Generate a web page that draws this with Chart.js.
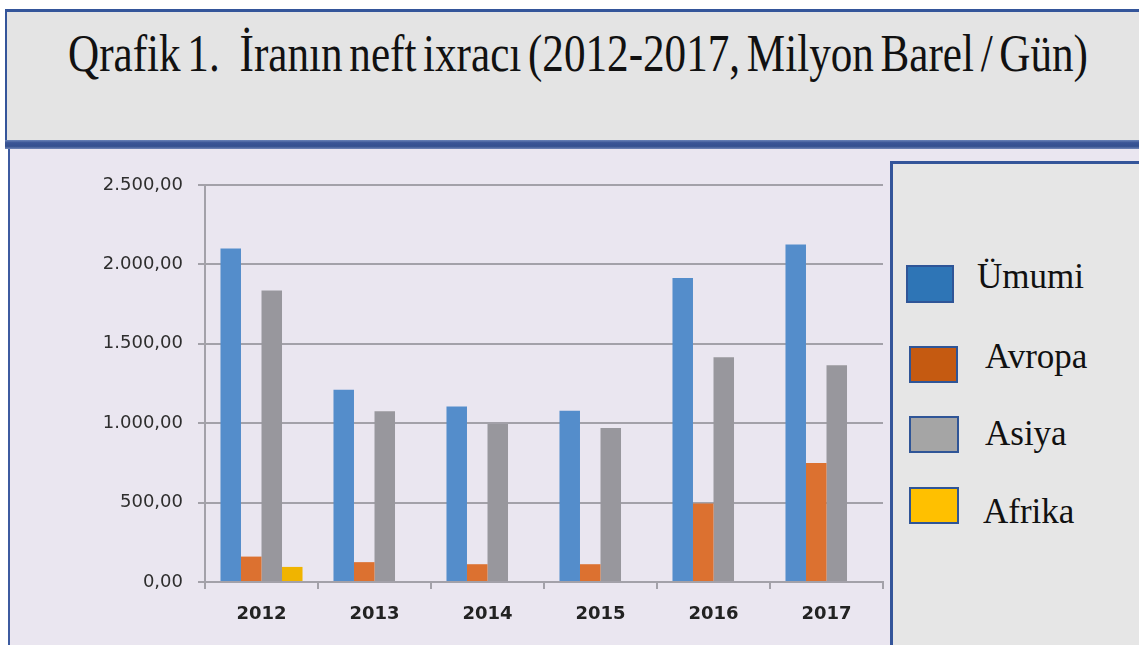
<!DOCTYPE html>
<html>
<head>
<meta charset="utf-8">
<script src="https://cdn.jsdelivr.net/npm/chart.js@4/dist/chart.umd.min.js"></script>
<style>
  html, body { margin:0; padding:0; background:#ffffff; }
  body { width:1139px; height:645px; overflow:hidden; position:relative; }
  #titlebox { position:absolute; left:5px; top:9px; width:1160px; height:131px; box-sizing:border-box;
    background:#e4e4e4; border-top:3px solid #34559a; border-left:2px solid #34559a; }
  #band { position:absolute; left:5px; top:140px; width:1160px; height:9px;
    background:linear-gradient(#6b84b8, #3a5596 30%, #34508f 70%, #7388b8); }
  #panel { position:absolute; left:8px; top:149px; width:1160px; height:520px; box-sizing:border-box;
    background:#eae6f0; border-left:2px solid #3d5ba0; }
  #wrap { position:absolute; left:0; top:0; width:1139px; height:645px; }
  #title { position:absolute; left:68px; top:28px; font-family:"Liberation Serif","Times New Roman",serif;
    font-size:52px; line-height:1; color:#111; white-space:pre; transform-origin:0 0; word-spacing:-5px; }
  #legendbox { position:absolute; left:890px; top:161px; width:280px; height:520px; box-sizing:border-box;
    background:#e6e6e6; border-top:3px solid #34559a; border-left:3px solid #34559a; }
  .lbox { position:absolute; box-sizing:border-box; border:2.5px solid #2f5597; }
  .ltext { position:absolute; font-family:"Liberation Serif","Times New Roman",serif; font-size:35px;
    line-height:1; color:#111; white-space:pre; }
</style>
</head>
<body>
<div id="titlebox"></div>
<div id="band"></div>
<div id="panel"></div>
<div id="title">Qrafik 1.   İranın neft ixracı (2012-2017, Milyon Barel / Gün)</div>
<div id="wrap"><canvas id="c" width="1139" height="645"></canvas></div>
<div id="legendbox"></div>
<script>
// ---- data ----
const categories = ['2012', '2013', '2014', '2015', '2016', '2017'];
const umumi  = [2100, 1210, 1105, 1078, 1915, 2125];
const avropa = [160, 125, 112, 112, 495, 750];
const asiya  = [1835, 1075, 995, 970, 1415, 1365];
const afrika = [95, null, null, null, null, null];
const seriesNames = ['Ümumi', 'Avropa', 'Asiya', 'Afrika'];
const yTickValues = [0, 500, 1000, 1500, 2000, 2500];
const yTickLabels = ['0,00', '500,00', '1.000,00', '1.500,00', '2.000,00', '2.500,00'];

// ---- styles ----
const barColors = ['#548dcb', '#dc7130', '#98979d', '#f0b400'];
const legendColors = ['#2e75b6', '#c55a11', '#a5a5a5', '#ffc000'];
const gridColor = '#a3a1a9';

// title horizontal fit
const t = document.getElementById('title');
const w = t.getBoundingClientRect().width;
t.style.transform = 'scaleX(' + (1020 / w) + ')';

// legend
const legendPos = [
  {bx:906, by:265, bw:48, bh:38, tx:977, ty:259},
  {bx:909, by:346, bw:49, bh:37, tx:985, ty:339},
  {bx:909, by:416, bw:50, bh:37, tx:985, ty:416},
  {bx:909, by:487, bw:50, bh:37, tx:983, ty:494}
];
seriesNames.forEach((name, i) => {
  const p = legendPos[i];
  const b = document.createElement('div');
  b.className = 'lbox';
  b.style.left = p.bx + 'px'; b.style.top = p.by + 'px';
  b.style.width = p.bw + 'px'; b.style.height = p.bh + 'px';
  b.style.background = legendColors[i];
  document.body.appendChild(b);
  const tx = document.createElement('div');
  tx.className = 'ltext';
  tx.style.left = p.tx + 'px'; tx.style.top = p.ty + 'px';
  tx.textContent = name;
  document.body.appendChild(tx);
});

const seriesData = [umumi, avropa, asiya, afrika];
new Chart(document.getElementById('c'), {
  type: 'bar',
  data: {
    labels: categories,
    datasets: seriesNames.map((n, i) => ({
      label: n,
      data: seriesData[i],
      backgroundColor: barColors[i],
      borderWidth: 0,
      barPercentage: 1.0,
      categoryPercentage: 0.726
    }))
  },
  options: {
    responsive: false,
    animation: false,
    devicePixelRatio: 1,
    layout: { padding: { left: 0, top: 185, right: 256, bottom: 0 } },
    plugins: { legend: { display: false }, tooltip: { enabled: false }, title: { display: false } },
    scales: {
      x: {
        afterFit: s => { s.height = 63; },
        grid: { offset: true, drawOnChartArea: false, drawTicks: true, tickLength: 7, color: gridColor, lineWidth: 2 },
        border: { display: true, color: gridColor, width: 2 },
        ticks: { color: '#222222', padding: 15, font: { family: 'DejaVu Sans', size: 18, weight: 'bold' } }
      },
      y: {
        min: 0, max: 2500,
        afterFit: s => { s.width = 205; },
        afterBuildTicks: s => { s.ticks = yTickValues.map(v => ({ value: v })); },
        grid: { color: gridColor, lineWidth: 2, tickLength: 7, drawTicks: true },
        border: { display: true, color: gridColor, width: 2 },
        ticks: {
          color: '#2e2e2e', padding: 15,
          font: { family: 'DejaVu Sans', size: 18 },
          callback: v => yTickLabels[yTickValues.indexOf(v)]
        }
      }
    }
  }
});
</script>
</body>
</html>
